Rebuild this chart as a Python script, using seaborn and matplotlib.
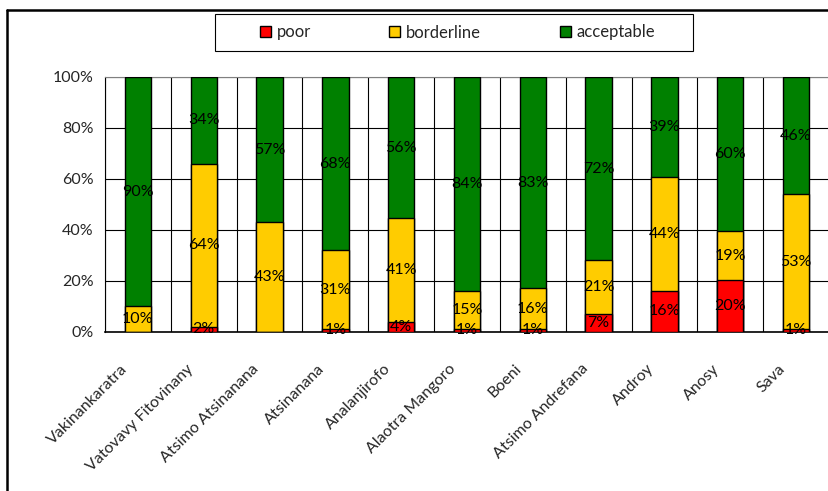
import numpy as np
import pandas as pd
import matplotlib
matplotlib.use("Agg")
import matplotlib.pyplot as plt
import seaborn as sns
from matplotlib.lines import Line2D
from matplotlib.patches import Patch, Rectangle
from matplotlib.transforms import ScaledTranslation

regions = ["Vakinankaratra", "Vatovavy Fitovinany", "Atsimo Atsinanana", "Atsinanana",
           "Analanjirofo", "Alaotra Mangoro", "Boeni", "Atsimo Andrefana", "Androy",
           "Anosy", "Sava"]
poor = [0, 2, 0, 1, 4, 1, 1, 7, 16, 20, 1]
borderline = [10, 64, 43, 31, 41, 15, 16, 21, 44, 19, 53]
acceptable = [90, 34, 57, 68, 56, 84, 83, 72, 39, 60, 46]
series_names = ["poor", "borderline", "acceptable"]
colors = ["#FF0000", "#FFCC00", "#008000"]
yticks = [0, 20, 40, 60, 80, 100]

sns.set_style("white")
plt.rcParams["font.family"] = ["Lato", "DejaVu Sans"]

W, H = 829, 491
vals = np.array([poor, borderline, acceptable], dtype=float)
tot = vals.sum(axis=0)
cum = np.cumsum(vals, axis=0) / tot * 100.0
bottoms = np.vstack([np.zeros(len(regions)), cum[:-1]])

fig = plt.figure(figsize=(W / 100, H / 100), dpi=100)
ax = fig.add_axes([105 / W, 1 - 331.7 / H, 724 / W, (331.7 - 77) / H])

# draw cumulative layers from top down so they appear stacked
for i in [2, 1, 0]:
    df = pd.DataFrame({"region": regions, "value": cum[i]})
    sns.barplot(data=df, x="region", y="value", color=colors[i], saturation=1,
                width=0.4, edgecolor="black", linewidth=1.0, ax=ax, zorder=3)

# data labels
for i in range(3):
    for j in range(len(regions)):
        if vals[i, j] > 0:
            ax.text(j, (bottoms[i, j] + cum[i, j]) / 2, f"{int(vals[i, j])}%",
                    ha="center", va="center", fontsize=11.5, color="black", zorder=5)

ax.set_xlim(-0.5, len(regions) - 0.5)
ax.set_ylim(0, 100)
ax.set_yticks(yticks)
ax.set_yticklabels([f"{v}%" for v in yticks], fontsize=11.5)
ax.set_xticks(range(len(regions)))
ax.set_xticklabels([""] * len(regions))
# category labels, rotated 45 degrees
off = ScaledTranslation(-18 / 100, -30 / 100, fig.dpi_scale_trans)
for j, name in enumerate(regions):
    ax.text(j, 0, name, rotation=45, ha="right", va="top", rotation_mode="anchor",
            fontsize=11.5, transform=ax.get_xaxis_transform() + off, clip_on=False)
ax.set_xticks(np.arange(-0.5, len(regions), 1.0), minor=True)
ax.tick_params(axis="x", which="major", length=0)
ax.tick_params(axis="x", which="minor", length=5, direction="out", color="black", width=0.8)
ax.tick_params(axis="y", length=5, direction="out", color="black", width=0.8, pad=3)
ax.set_xlabel("")
ax.set_ylabel("")
ax.grid(False)
ax.yaxis.grid(True, color="black", linewidth=0.8, zorder=0)
ax.xaxis.grid(True, which="minor", color="black", linewidth=0.8, zorder=0)
ax.set_axisbelow(True)
for s in ["top", "right"]:
    ax.spines[s].set_color("#808080")
    ax.spines[s].set_linewidth(0.8)
ax.spines["left"].set_color("black")
ax.spines["bottom"].set_color("black")
ax.spines["left"].set_linewidth(0.8)
ax.spines["bottom"].set_linewidth(1.2)

# legend box
fig.add_artist(Rectangle((215 / W, 1 - 51 / H), (693 - 215) / W, (51 - 14) / H,
                         transform=fig.transFigure, facecolor="white",
                         edgecolor="black", linewidth=0.8))
handles = [Patch(facecolor=c, edgecolor="black", linewidth=1.0) for c in colors]
fig.legend(handles, series_names, loc="center", bbox_to_anchor=(457.5 / W, 1 - 32.5 / H),
           ncol=3, fontsize=12, frameon=False,
           handlelength=0.66, handleheight=0.66, handletextpad=0.36,
           columnspacing=4.7, borderpad=0, borderaxespad=0)

# outer chart frame (cropped rectangle)
fig.add_artist(Line2D([7 / W, 7 / W], [0, 1 - 10 / H], color="black", linewidth=1.8,
                      transform=fig.transFigure))
fig.add_artist(Line2D([7 / W, 1], [1 - 10 / H, 1 - 10 / H], color="black", linewidth=1.8,
                      transform=fig.transFigure))

fig.savefig("out.png", dpi=100)
